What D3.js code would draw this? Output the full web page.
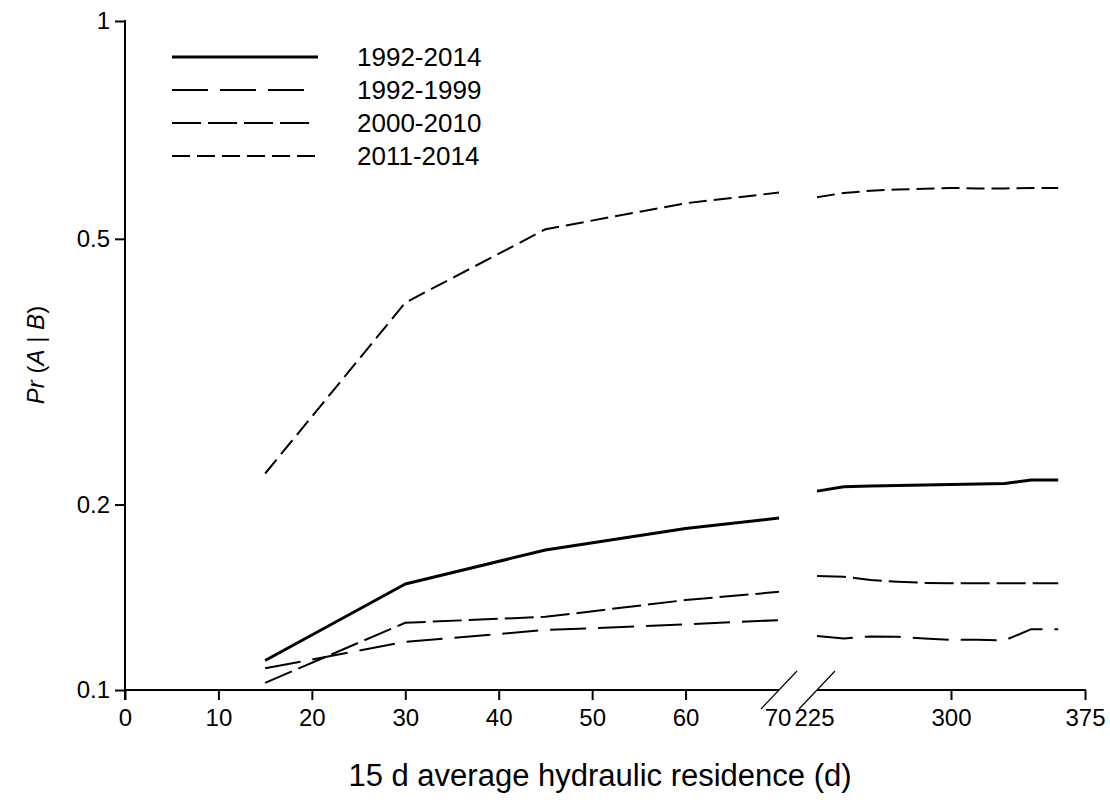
<!DOCTYPE html>
<html>
<head>
<meta charset="utf-8">
<script src="https://cdn.jsdelivr.net/npm/d3@7"></script>
<style>
  html, body { margin: 0; padding: 0; background: #fff; }
  svg { display: block; font-family: Arial, "Liberation Sans", sans-serif; }
</style>
</head>
<body>
<svg id="chart" width="1110" height="804"></svg>
<script>
// Residence times (d) on each side of the axis break
const xLeft = [15, 30, 45, 60, 70];
const xRight = [225, 240, 255, 270, 285, 300, 315, 330, 345, 360];

// Pr(A | B) per period
const p1992_2014_left = [0.112, 0.1495, 0.1695, 0.1834, 0.1905];
const p1992_2014_right = [0.2099, 0.2132, 0.2138, 0.2142, 0.2146, 0.2150, 0.2153, 0.2158, 0.2184, 0.2184];
const p1992_1999_left = [0.1087, 0.1203, 0.1258, 0.1285, 0.1306];
const p1992_1999_right = [0.123, 0.1218, 0.1228, 0.1226, 0.1218, 0.1212, 0.1212, 0.121, 0.1262, 0.1262];
const p2000_2010_left = [0.1028, 0.1293, 0.1322, 0.1408, 0.1452];
const p2000_2010_right = [0.154, 0.1536, 0.1517, 0.1508, 0.1501, 0.1499, 0.1499, 0.1499, 0.1499, 0.1499];
const p2011_2014_left = [0.2236, 0.4042, 0.516, 0.5618, 0.5816];
const p2011_2014_right = [0.5729, 0.581, 0.585, 0.5875, 0.589, 0.5904, 0.5895, 0.5895, 0.5904, 0.5904];

const seriesNames = ["1992-2014", "1992-1999", "2000-2010", "2011-2014"];
const yTicks = [0.1, 0.2, 0.5, 1];
const xTicksLeft = [0, 10, 20, 30, 40, 50, 60, 70];
const xTicksRight = [225, 300, 375];

const series = [
  { name: seriesNames[0], left: p1992_2014_left, right: p1992_2014_right, dash: null, width: 3, legEnd: 318 },
  { name: seriesNames[1], left: p1992_1999_left, right: p1992_1999_right, dash: "36,12", width: 2, legEnd: 305 },
  { name: seriesNames[2], left: p2000_2010_left, right: p2000_2010_right, dash: "29,7", width: 2, legEnd: 310 },
  { name: seriesNames[3], left: p2011_2014_left, right: p2011_2014_right, dash: "18,7", width: 2, legEnd: 318 }
];

const svg = d3.select("#chart");
const axisY = 690, plotTop = 21, x0 = 125;
const breakL = 779, breakR = 817, xEnd = 1085;

const y = d3.scalePow().exponent(0.1).domain([0.1, 1]).range([axisY, plotTop]);
const xl = d3.scaleLinear().domain([0, 70]).range([x0, breakL]);
const xr = d3.scaleLinear().domain([225, 375]).range([breakR, xEnd]);

const fontSize = 24;
const fontFam = "Arial, 'Liberation Sans', sans-serif";

// y axis
const yAxis = svg.append("g").attr("transform", `translate(${x0},0)`)
  .call(d3.axisLeft(y).tickValues(yTicks).tickFormat(d3.format("")).tickSize(10).tickSizeOuter(0).tickPadding(5));
yAxis.select(".domain").remove();
yAxis.append("line").attr("x1", 0).attr("x2", 0).attr("y1", plotTop - 1).attr("y2", axisY + 10)
  .attr("stroke", "#000").attr("stroke-width", 2);
yAxis.selectAll(".tick line").attr("stroke-width", 2);
yAxis.selectAll(".tick text").attr("font-size", fontSize).attr("fill", "#000").attr("font-family", fontFam);

// x axis, left segment
const xaL = svg.append("g").attr("transform", `translate(0,${axisY})`)
  .call(d3.axisBottom(xl).tickValues(xTicksLeft).tickSize(10).tickSizeOuter(0).tickPadding(9));
xaL.select(".domain").remove();
xaL.append("line").attr("x1", x0).attr("x2", breakL).attr("stroke", "#000").attr("stroke-width", 2);
xaL.selectAll(".tick line").attr("stroke-width", 2).filter(d => d === 70).remove();
xaL.selectAll(".tick text").attr("font-size", fontSize).attr("fill", "#000").attr("font-family", fontFam)
  .filter(d => d === 70).attr("dx", -1.5);

// x axis, right segment
const xaR = svg.append("g").attr("transform", `translate(0,${axisY})`)
  .call(d3.axisBottom(xr).tickValues(xTicksRight).tickSize(10).tickSizeOuter(0).tickPadding(9));
xaR.select(".domain").remove();
xaR.append("line").attr("x1", breakR).attr("x2", xEnd + 1).attr("stroke", "#000").attr("stroke-width", 2);
xaR.selectAll(".tick line").attr("stroke-width", 2).filter(d => d === 225).remove();
xaR.selectAll(".tick text").attr("font-size", fontSize).attr("fill", "#000").attr("font-family", fontFam)
  .filter(d => d === 225).attr("dx", -3);

// break marks
[breakL, breakR].forEach(bx => {
  svg.append("line").attr("x1", bx - 18).attr("y1", axisY + 19).attr("x2", bx + 18).attr("y2", axisY - 19)
    .attr("stroke", "#000").attr("stroke-width", 1.2);
});

// series lines
const lineL = d3.line().x((d, i) => xl(xLeft[i])).y(d => y(d));
const lineR = d3.line().x((d, i) => xr(xRight[i])).y(d => y(d));
series.forEach(s => {
  [[s.left, lineL], [s.right, lineR]].forEach(([vals, gen]) => {
    svg.append("path").attr("d", gen(vals)).attr("fill", "none").attr("stroke", "#000")
      .attr("stroke-width", s.width).attr("stroke-dasharray", s.dash).attr("stroke-linejoin", "round");
  });
});

// legend
const legY = [57, 90, 123, 156];
series.forEach((s, i) => {
  svg.append("line").attr("x1", 172).attr("x2", s.legEnd).attr("y1", legY[i]).attr("y2", legY[i])
    .attr("stroke", "#000").attr("stroke-width", s.width).attr("stroke-dasharray", s.dash);
  svg.append("text").attr("x", 357).attr("y", legY[i]).attr("dy", "0.36em")
    .attr("font-size", 26).text(s.name);
});

// axis titles
svg.append("text").attr("x", 600).attr("y", 786).attr("text-anchor", "middle")
  .attr("font-size", 31).text("15 d average hydraulic residence (d)");

const yt = svg.append("text").attr("transform", "translate(44,355) rotate(-90)")
  .attr("text-anchor", "middle").attr("font-size", 24);
yt.append("tspan").attr("font-style", "italic").text("Pr");
yt.append("tspan").text(" (");
yt.append("tspan").attr("font-style", "italic").text("A");
yt.append("tspan").text(" | ");
yt.append("tspan").attr("font-style", "italic").text("B");
yt.append("tspan").text(")");
</script>
</body>
</html>
